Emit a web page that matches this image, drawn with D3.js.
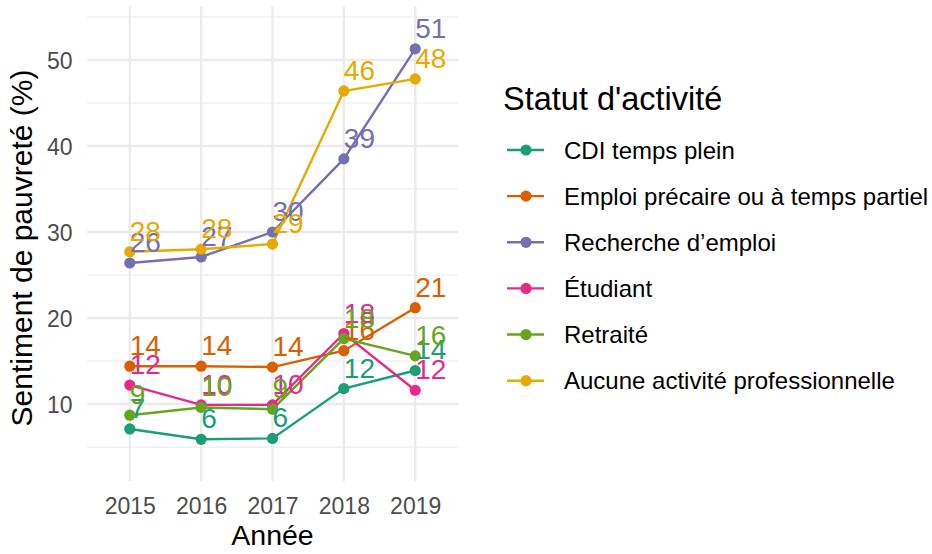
<!DOCTYPE html>
<html><head><meta charset="utf-8">
<script src="https://cdn.jsdelivr.net/npm/d3@7"></script>
<style>body{margin:0;background:#fff}text{font-family:"Liberation Sans",Arial,sans-serif}</style>
</head><body>
<svg id="c" width="932" height="554"></svg>
<script>
const years = ["2015","2016","2017","2018","2019"];
const seriesNames = ["CDI temps plein","Emploi précaire ou à temps partiel","Recherche d’emploi","Étudiant","Retraité","Aucune activité professionnelle"];
const cdi = [7.1, 5.9, 6.0, 11.8, 13.9];
const precaire = [14.4, 14.4, 14.3, 16.2, 21.2];
const recherche = [26.4, 27.1, 30.0, 38.5, 51.3];
const etudiant = [12.2, 9.9, 9.9, 18.2, 11.6];
const retraite = [8.7, 9.6, 9.4, 17.6, 15.6];
const aucune = [27.7, 28.0, 28.6, 46.4, 47.8];
const colors = ["#1B9E77","#D95F02","#7570B3","#E7298A","#66A61E","#E6AB02"];
const yTicks = [10,20,30,40,50];
const yMinor = [5,15,25,35,45,55];
const seriesValues = [cdi, precaire, recherche, etudiant, retraite, aucune];

const svg = d3.select("#c");
const L=87, R=458, T=6, B=481;
const x = d3.scalePoint().domain(years).range([L,R]).padding(0.6);
const y = d3.scaleLinear().domain([1.05,56.28]).range([B,T]);

const g = svg.append("g");
// grid
g.selectAll(".ymin").data(yMinor).join("line").attr("x1",L).attr("x2",R)
 .attr("y1",d=>y(d)).attr("y2",d=>y(d)).attr("stroke","#EBEBEB").attr("stroke-width",1.2);
g.selectAll(".ymaj").data(yTicks).join("line").attr("x1",L).attr("x2",R)
 .attr("y1",d=>y(d)).attr("y2",d=>y(d)).attr("stroke","#EBEBEB").attr("stroke-width",2.4);
g.selectAll(".xmaj").data(years).join("line").attr("y1",T).attr("y2",B)
 .attr("x1",d=>x(d)).attr("x2",d=>x(d)).attr("stroke","#EBEBEB").attr("stroke-width",2.4);

// axes (text only)
const yAxis = d3.axisLeft(y).tickValues(yTicks).tickSize(0).tickPadding(0);
const ya = svg.append("g").attr("transform",`translate(${72.5},0)`).call(yAxis);
ya.select(".domain").remove();
ya.selectAll("text").attr("fill","#4D4D4D").style("font-size","23px").style("font-family","'Liberation Sans',Arial,sans-serif").attr("dy","0.36em");
const xAxis = d3.axisBottom(x).tickSize(0).tickPadding(0);
const xa = svg.append("g").attr("transform",`translate(0,${514})`).call(xAxis);
xa.select(".domain").remove();
xa.selectAll("text").attr("fill","#4D4D4D").style("font-size","23px").style("font-family","'Liberation Sans',Arial,sans-serif").attr("dy","0");

svg.append("text").attr("x",(L+R)/2).attr("y",545).attr("text-anchor","middle")
 .style("font-size","28.5px").attr("fill","#000").text("Année");
svg.append("text").attr("transform",`translate(32,248) rotate(-90)`).attr("text-anchor","middle")
 .style("font-size","30px").attr("fill","#000").text("Sentiment de pauvreté (%)");

const line = d3.line().x((d,i)=>x(years[i])).y(d=>y(d));
seriesValues.forEach((vals,k)=>{
  g.append("path").datum(vals).attr("d",line).attr("fill","none")
   .attr("stroke",colors[k]).attr("stroke-width",2.4);
});
seriesValues.forEach((vals,k)=>{
  g.selectAll(null).data(vals).join("circle").attr("cx",(d,i)=>x(years[i])).attr("cy",d=>y(d))
   .attr("r",5.6).attr("fill",colors[k]);
});
seriesValues.forEach((vals,k)=>{
  g.selectAll(null).data(vals).join("text").attr("x",(d,i)=>x(years[i])).attr("y",d=>y(d)-11)
   .style("font-size","28px").attr("fill",colors[k]).text(d=>Math.round(d));
});

// legend
const lg = svg.append("g");
lg.append("text").attr("x",503).attr("y",110).style("font-size","32.5px").attr("fill","#000").text("Statut d'activité");
const ly = d3.scalePoint().domain(seriesNames).range([150,380.7]);
seriesNames.forEach((n,k)=>{
  const yy = ly(n);
  lg.append("line").attr("x1",507).attr("x2",544).attr("y1",yy).attr("y2",yy).attr("stroke",colors[k]).attr("stroke-width",2.4);
  lg.append("circle").attr("cx",526).attr("cy",yy).attr("r",5.6).attr("fill",colors[k]);
  lg.append("text").attr("x",564).attr("y",yy).attr("dy","0.36em").style("font-size","24px").attr("fill","#000").text(n);
});
</script>
</body></html>
